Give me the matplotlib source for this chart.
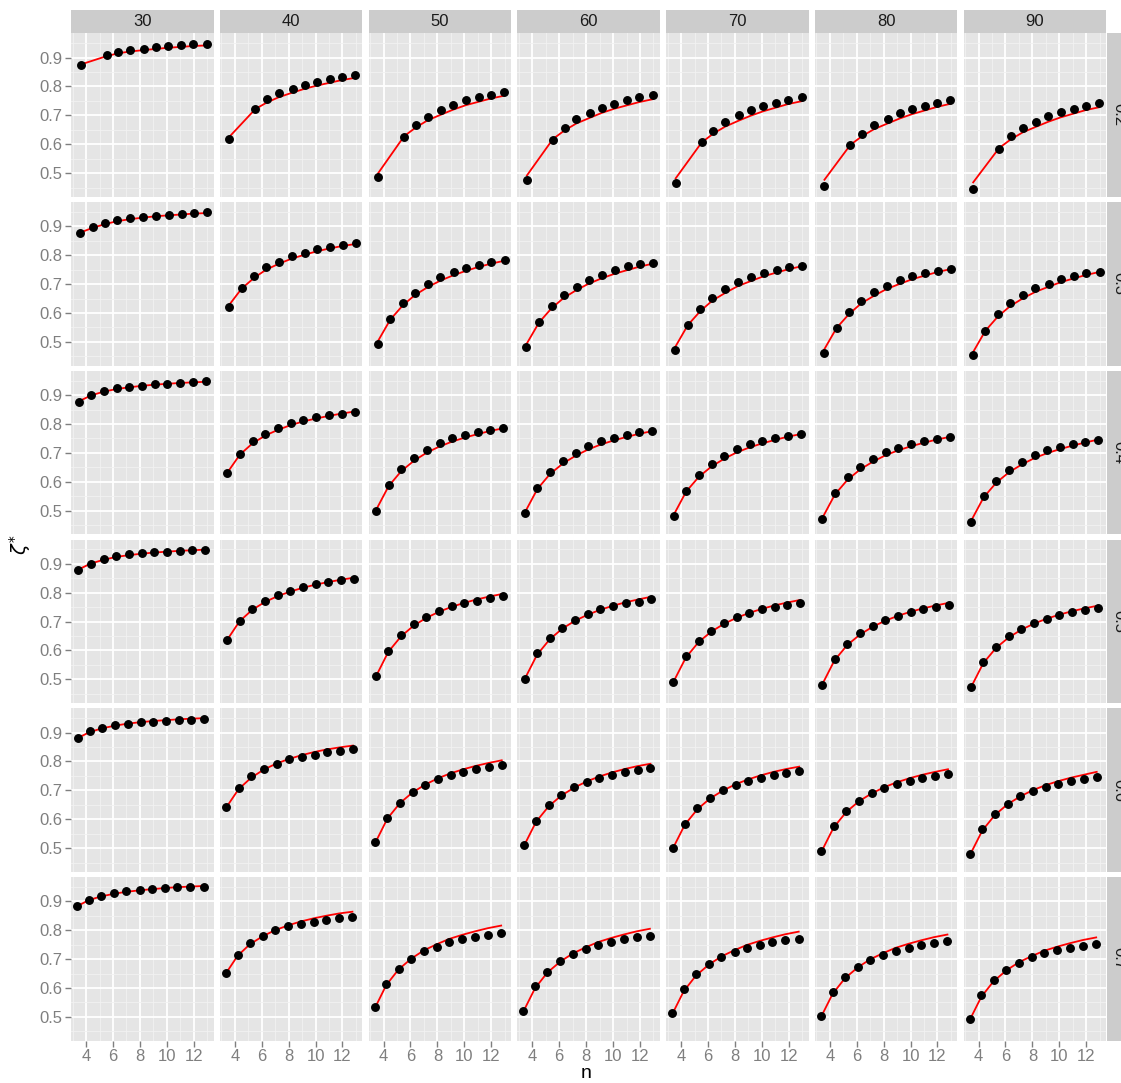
import matplotlib
matplotlib.use("Agg")
import matplotlib.pyplot as plt
from matplotlib.ticker import FixedLocator

plt.rcParams["font.family"] = ["Liberation Sans", "DejaVu Sans"]
plt.rcParams["mathtext.fontset"] = "dejavusans"

# facet levels
col_levels = ["30", "40", "50", "60", "70", "80", "90"]
row_levels = ["0.2", "0.3", "0.4", "0.5", "0.6", "0.7"]

# n positions of the observations in each row
n_r02 = [3.60, 5.53, 6.40, 7.28, 8.30, 9.19, 10.10, 11.06, 11.95, 12.96]
n_r03 = [3.55, 4.50, 5.44, 6.33, 7.30, 8.22, 9.21, 10.13, 11.10, 12.02, 12.99]
n_r04 = [3.45, 4.38, 5.32, 6.27, 7.22, 8.16, 9.10, 10.05, 11.00, 11.94, 12.90]
n_r05 = [3.42, 4.35, 5.30, 6.24, 7.18, 8.12, 9.06, 10.00, 10.95, 11.90, 12.85]
n_r06 = [3.38, 4.28, 5.22, 6.16, 7.10, 8.05, 8.99, 9.93, 10.88, 11.83, 12.78]
n_r07 = [3.33, 4.20, 5.11, 6.07, 6.99, 7.98, 8.89, 9.85, 10.79, 11.75, 12.74]

# observed zeta* (points), one list per column, per row
obs_r02 = [
    [0.873, 0.908, 0.918, 0.925, 0.929, 0.935, 0.939, 0.943, 0.946, 0.947],
    [0.618, 0.723, 0.755, 0.776, 0.792, 0.806, 0.817, 0.826, 0.833, 0.839],
    [0.485, 0.626, 0.666, 0.695, 0.718, 0.737, 0.752, 0.763, 0.771, 0.782],
    [0.475, 0.616, 0.656, 0.686, 0.709, 0.725, 0.740, 0.753, 0.762, 0.771],
    [0.466, 0.607, 0.647, 0.677, 0.700, 0.718, 0.731, 0.744, 0.754, 0.762],
    [0.456, 0.597, 0.637, 0.666, 0.688, 0.707, 0.722, 0.733, 0.743, 0.753],
    [0.446, 0.585, 0.628, 0.656, 0.678, 0.697, 0.710, 0.723, 0.733, 0.741],
]
obs_r03 = [
    [0.876, 0.896, 0.910, 0.921, 0.928, 0.931, 0.937, 0.940, 0.943, 0.945, 0.948],
    [0.621, 0.685, 0.729, 0.758, 0.778, 0.797, 0.809, 0.820, 0.829, 0.834, 0.841],
    [0.493, 0.578, 0.633, 0.670, 0.700, 0.723, 0.741, 0.755, 0.767, 0.778, 0.783],
    [0.483, 0.569, 0.623, 0.661, 0.691, 0.714, 0.732, 0.748, 0.761, 0.770, 0.774],
    [0.473, 0.558, 0.614, 0.653, 0.683, 0.706, 0.724, 0.739, 0.750, 0.758, 0.763],
    [0.463, 0.549, 0.605, 0.643, 0.673, 0.695, 0.713, 0.727, 0.739, 0.747, 0.753],
    [0.454, 0.539, 0.596, 0.634, 0.662, 0.685, 0.702, 0.717, 0.729, 0.737, 0.743],
]
obs_r04 = [
    [0.876, 0.900, 0.915, 0.924, 0.929, 0.933, 0.937, 0.940, 0.942, 0.945, 0.947],
    [0.630, 0.697, 0.740, 0.766, 0.787, 0.804, 0.815, 0.823, 0.830, 0.836, 0.842],
    [0.500, 0.588, 0.643, 0.682, 0.711, 0.733, 0.750, 0.761, 0.771, 0.779, 0.785],
    [0.491, 0.579, 0.634, 0.672, 0.700, 0.722, 0.740, 0.752, 0.763, 0.771, 0.775],
    [0.482, 0.569, 0.625, 0.662, 0.690, 0.712, 0.729, 0.742, 0.752, 0.759, 0.765],
    [0.472, 0.560, 0.615, 0.651, 0.680, 0.702, 0.718, 0.732, 0.742, 0.749, 0.756],
    [0.462, 0.551, 0.604, 0.642, 0.670, 0.692, 0.709, 0.721, 0.731, 0.738, 0.745],
]
obs_r05 = [
    [0.879, 0.901, 0.917, 0.926, 0.933, 0.936, 0.940, 0.942, 0.944, 0.947, 0.949],
    [0.636, 0.703, 0.744, 0.771, 0.792, 0.807, 0.820, 0.829, 0.837, 0.843, 0.847],
    [0.510, 0.599, 0.653, 0.690, 0.716, 0.736, 0.753, 0.764, 0.773, 0.780, 0.787],
    [0.501, 0.590, 0.643, 0.679, 0.705, 0.725, 0.742, 0.754, 0.763, 0.769, 0.777],
    [0.491, 0.581, 0.634, 0.668, 0.695, 0.715, 0.731, 0.742, 0.751, 0.759, 0.766],
    [0.482, 0.570, 0.623, 0.659, 0.685, 0.705, 0.721, 0.733, 0.742, 0.750, 0.757],
    [0.472, 0.561, 0.613, 0.650, 0.675, 0.694, 0.710, 0.723, 0.732, 0.739, 0.747],
]
obs_r06 = [
    [0.881, 0.905, 0.915, 0.925, 0.931, 0.935, 0.938, 0.940, 0.942, 0.945, 0.947],
    [0.644, 0.709, 0.748, 0.775, 0.792, 0.808, 0.817, 0.824, 0.831, 0.837, 0.843],
    [0.522, 0.605, 0.657, 0.694, 0.720, 0.740, 0.753, 0.765, 0.774, 0.781, 0.788],
    [0.511, 0.594, 0.648, 0.684, 0.711, 0.729, 0.744, 0.754, 0.763, 0.771, 0.777],
    [0.501, 0.584, 0.638, 0.674, 0.701, 0.719, 0.734, 0.744, 0.753, 0.761, 0.768],
    [0.491, 0.575, 0.627, 0.664, 0.690, 0.708, 0.723, 0.734, 0.743, 0.751, 0.757],
    [0.481, 0.565, 0.617, 0.654, 0.680, 0.698, 0.713, 0.723, 0.732, 0.740, 0.746],
]
obs_r07 = [
    [0.885, 0.906, 0.920, 0.928, 0.934, 0.938, 0.942, 0.945, 0.948, 0.949, 0.951],
    [0.652, 0.715, 0.754, 0.779, 0.799, 0.813, 0.823, 0.830, 0.837, 0.843, 0.847],
    [0.533, 0.613, 0.666, 0.701, 0.728, 0.743, 0.758, 0.769, 0.777, 0.785, 0.790],
    [0.522, 0.606, 0.656, 0.692, 0.717, 0.734, 0.748, 0.760, 0.769, 0.776, 0.780],
    [0.512, 0.596, 0.647, 0.682, 0.708, 0.725, 0.739, 0.750, 0.758, 0.765, 0.771],
    [0.502, 0.586, 0.637, 0.672, 0.698, 0.715, 0.729, 0.739, 0.748, 0.755, 0.761],
    [0.492, 0.576, 0.626, 0.662, 0.687, 0.706, 0.720, 0.730, 0.738, 0.745, 0.751],
]

# model zeta* (red curves) at the same n
fit_r02 = [
    [0.876, 0.905, 0.915, 0.921, 0.926, 0.930, 0.934, 0.937, 0.940, 0.942],
    [0.626, 0.722, 0.745, 0.763, 0.779, 0.792, 0.803, 0.813, 0.822, 0.830],
    [0.500, 0.628, 0.658, 0.683, 0.703, 0.720, 0.735, 0.747, 0.758, 0.768],
    [0.492, 0.618, 0.648, 0.672, 0.692, 0.709, 0.723, 0.735, 0.746, 0.756],
    [0.482, 0.606, 0.637, 0.661, 0.682, 0.699, 0.714, 0.727, 0.739, 0.749],
    [0.477, 0.598, 0.628, 0.652, 0.672, 0.689, 0.704, 0.717, 0.729, 0.740],
    [0.468, 0.587, 0.617, 0.641, 0.661, 0.678, 0.693, 0.706, 0.718, 0.728],
]
fit_r03 = [
    [0.878, 0.895, 0.908, 0.918, 0.925, 0.930, 0.935, 0.938, 0.941, 0.944, 0.946],
    [0.626, 0.684, 0.722, 0.750, 0.771, 0.788, 0.802, 0.814, 0.824, 0.832, 0.839],
    [0.500, 0.577, 0.627, 0.662, 0.690, 0.712, 0.731, 0.746, 0.760, 0.771, 0.781],
    [0.491, 0.567, 0.617, 0.652, 0.680, 0.702, 0.721, 0.736, 0.749, 0.761, 0.771],
    [0.481, 0.558, 0.607, 0.643, 0.670, 0.693, 0.711, 0.727, 0.740, 0.752, 0.762],
    [0.471, 0.548, 0.597, 0.633, 0.660, 0.683, 0.701, 0.717, 0.730, 0.742, 0.752],
    [0.461, 0.538, 0.588, 0.623, 0.651, 0.673, 0.691, 0.707, 0.720, 0.732, 0.742],
]
fit_r04 = [
    [0.878, 0.899, 0.912, 0.921, 0.927, 0.932, 0.936, 0.939, 0.942, 0.944, 0.946],
    [0.632, 0.694, 0.733, 0.760, 0.780, 0.796, 0.809, 0.819, 0.828, 0.836, 0.843],
    [0.503, 0.585, 0.637, 0.673, 0.701, 0.722, 0.739, 0.753, 0.765, 0.776, 0.785],
    [0.494, 0.575, 0.627, 0.663, 0.690, 0.712, 0.729, 0.743, 0.755, 0.766, 0.775],
    [0.485, 0.566, 0.617, 0.653, 0.680, 0.702, 0.719, 0.733, 0.745, 0.756, 0.765],
    [0.475, 0.556, 0.607, 0.643, 0.670, 0.692, 0.709, 0.723, 0.735, 0.746, 0.755],
    [0.465, 0.546, 0.597, 0.633, 0.660, 0.682, 0.699, 0.713, 0.725, 0.736, 0.746],
]
fit_r05 = [
    [0.880, 0.901, 0.914, 0.924, 0.930, 0.935, 0.939, 0.942, 0.945, 0.947, 0.949],
    [0.636, 0.701, 0.741, 0.768, 0.788, 0.804, 0.817, 0.828, 0.837, 0.845, 0.852],
    [0.509, 0.595, 0.649, 0.686, 0.713, 0.734, 0.751, 0.765, 0.777, 0.787, 0.796],
    [0.500, 0.585, 0.639, 0.676, 0.703, 0.724, 0.741, 0.755, 0.767, 0.777, 0.786],
    [0.490, 0.575, 0.629, 0.665, 0.692, 0.713, 0.730, 0.744, 0.756, 0.766, 0.775],
    [0.481, 0.566, 0.619, 0.655, 0.682, 0.703, 0.720, 0.734, 0.746, 0.756, 0.765],
    [0.471, 0.556, 0.609, 0.645, 0.672, 0.693, 0.710, 0.724, 0.736, 0.746, 0.755],
]
fit_r06 = [
    [0.881, 0.902, 0.915, 0.924, 0.931, 0.936, 0.940, 0.943, 0.946, 0.948, 0.950],
    [0.642, 0.704, 0.744, 0.772, 0.793, 0.809, 0.822, 0.833, 0.842, 0.849, 0.855],
    [0.518, 0.602, 0.656, 0.693, 0.720, 0.742, 0.759, 0.773, 0.785, 0.795, 0.804],
    [0.508, 0.591, 0.645, 0.682, 0.709, 0.731, 0.748, 0.762, 0.774, 0.784, 0.792],
    [0.498, 0.581, 0.635, 0.672, 0.699, 0.721, 0.738, 0.752, 0.764, 0.774, 0.782],
    [0.488, 0.571, 0.625, 0.662, 0.689, 0.711, 0.728, 0.742, 0.754, 0.764, 0.773],
    [0.478, 0.561, 0.615, 0.652, 0.679, 0.701, 0.718, 0.732, 0.744, 0.754, 0.764],
]
fit_r07 = [
    [0.883, 0.904, 0.917, 0.926, 0.933, 0.938, 0.942, 0.946, 0.949, 0.951, 0.953],
    [0.650, 0.711, 0.751, 0.779, 0.800, 0.817, 0.830, 0.841, 0.850, 0.858, 0.864],
    [0.528, 0.610, 0.664, 0.702, 0.730, 0.752, 0.770, 0.784, 0.796, 0.807, 0.816],
    [0.518, 0.599, 0.653, 0.691, 0.719, 0.741, 0.759, 0.773, 0.785, 0.796, 0.805],
    [0.508, 0.589, 0.643, 0.681, 0.709, 0.731, 0.749, 0.763, 0.775, 0.786, 0.795],
    [0.498, 0.579, 0.633, 0.671, 0.699, 0.721, 0.739, 0.753, 0.765, 0.776, 0.785],
    [0.488, 0.569, 0.623, 0.661, 0.689, 0.711, 0.729, 0.743, 0.755, 0.766, 0.775],
]

n_rows = [n_r02, n_r03, n_r04, n_r05, n_r06, n_r07]
obs_rows = [obs_r02, obs_r03, obs_r04, obs_r05, obs_r06, obs_r07]
fit_rows = [fit_r02, fit_r03, fit_r04, fit_r05, fit_r06, fit_r07]

x_major = [4, 6, 8, 10, 12]
x_minor = [3, 5, 7, 9, 11, 13]
y_major = [0.5, 0.6, 0.7, 0.8, 0.9]
y_minor = [0.45, 0.55, 0.65, 0.75, 0.85, 0.95]

# ---- layout in pixels ----
W, H = 1121, 1083
DPI = 100
panel_left0, panel_w, col_step = 71.0, 142.5, 148.75
panel_top0, panel_h, row_step = 33.3, 163.5, 168.75
strip_top, strip_h = 10.0, 23.3
rstrip_left, rstrip_w = 1107.0, 24.0

PANEL_BG = "#E5E5E5"
STRIP_BG = "#CCCCCC"
MINOR = "#F2F2F2"
AXIS_TXT = "#7F7F7F"


def px_rect(left, top, width, height):
    return [left / W, 1 - (top + height) / H, width / W, height / H]


fig = plt.figure(figsize=(W / DPI, H / DPI), dpi=DPI)
fig.patch.set_facecolor("white")

nrow, ncol = len(row_levels), len(col_levels)
for r in range(nrow):
    for c in range(ncol):
        left = panel_left0 + c * col_step
        top = panel_top0 + r * row_step
        ax = fig.add_axes(px_rect(left, top, panel_w, panel_h))
        ax.set_facecolor(PANEL_BG)
        for sp in ax.spines.values():
            sp.set_visible(False)
        ax.set_xlim(2.88, 13.47)
        ax.set_ylim(0.418, 0.984)
        ax.xaxis.set_major_locator(FixedLocator(x_major))
        ax.xaxis.set_minor_locator(FixedLocator(x_minor))
        ax.yaxis.set_major_locator(FixedLocator(y_major))
        ax.yaxis.set_minor_locator(FixedLocator(y_minor))
        ax.grid(which="major", color="white", linewidth=1.3)
        ax.grid(which="minor", color=MINOR, linewidth=0.6)
        ax.set_axisbelow(True)
        ax.tick_params(which="minor", length=0)
        ax.tick_params(which="major", length=4, width=1.0, color=AXIS_TXT,
                       labelcolor=AXIS_TXT, labelsize=12, pad=2)
        if c == 0:
            ax.set_yticklabels([f"{v:.1f}" for v in y_major])
        else:
            ax.tick_params(axis="y", which="major", length=0, labelleft=False)
        if r == nrow - 1:
            ax.set_xticklabels([str(v) for v in x_major])
        else:
            ax.tick_params(axis="x", which="major", length=0, labelbottom=False)

        xs = n_rows[r]
        ax.plot(xs, fit_rows[r][c], color="#FF0000", linewidth=1.3, zorder=3)
        ax.plot(xs, obs_rows[r][c], linestyle="none", marker="o",
                markersize=5.4, color="black", zorder=4)

# column strips
for c, lab in enumerate(col_levels):
    sax = fig.add_axes(px_rect(panel_left0 + c * col_step, strip_top, panel_w, strip_h))
    sax.set_facecolor(STRIP_BG)
    sax.set_xticks([]); sax.set_yticks([])
    for sp in sax.spines.values():
        sp.set_visible(False)
    sax.text(0.5, 0.5, lab, ha="center", va="center", fontsize=12,
             color="#1A1A1A", transform=sax.transAxes)

# row strips (extending past the right edge of the figure)
for r, lab in enumerate(row_levels):
    sax = fig.add_axes(px_rect(rstrip_left, panel_top0 + r * row_step, rstrip_w, panel_h))
    sax.set_facecolor(STRIP_BG)
    sax.set_xticks([]); sax.set_yticks([])
    for sp in sax.spines.values():
        sp.set_visible(False)
    sax.text(0.5, 0.5, lab, ha="center", va="center", fontsize=12, rotation=-90,
             color="#1A1A1A", transform=sax.transAxes, clip_on=False)

# axis titles
fig.text(20 / W, 1 - 545 / H, r"$\zeta^{*}$", rotation=90, ha="center", va="center",
         fontsize=14, color="black")
fig.text(586 / W, 1 - 1073 / H, "n", ha="center", va="center", fontsize=14, color="black")

fig.savefig("out.png", dpi=DPI, facecolor="white")
